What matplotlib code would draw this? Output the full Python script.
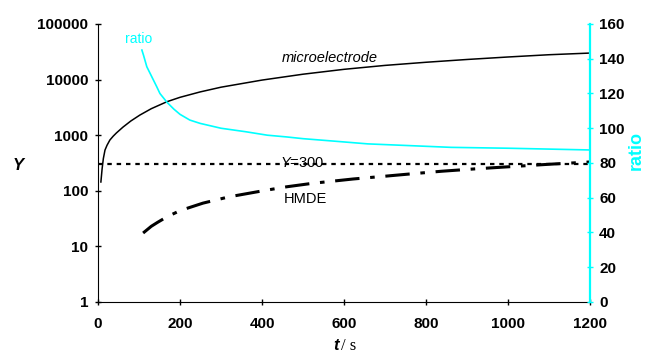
import matplotlib
matplotlib.use("Agg")
import matplotlib.pyplot as plt
from matplotlib.ticker import NullLocator

plt.rcParams['font.family'] = 'Liberation Sans'
plt.rcParams['mathtext.fontset'] = 'custom'
plt.rcParams['mathtext.rm'] = 'Liberation Sans'
plt.rcParams['mathtext.it'] = 'Liberation Sans:italic'

# data
t_micro = [7, 10, 13, 17, 22, 29, 37, 45, 61, 80, 102, 130, 168, 200, 249, 300,
           400, 500, 600, 700, 800, 900, 1000, 1100, 1200]
y_micro = [144, 250, 380, 540, 660, 820, 960, 1100, 1400, 1800, 2300, 3000, 4000,
           4800, 6000, 7300, 9800, 12500, 15300, 18000, 20500, 23000, 25500, 28000, 30000]

t_hmde = [110, 130, 145, 168, 200, 256, 320, 402, 460, 522, 622, 700, 768, 839,
          920, 1000, 1100, 1200]
y_hmde = [17.4, 23, 27, 34, 44, 60, 78, 100, 118, 136, 163, 183, 203, 225,
          248, 270, 300, 330]

t_ratio = [107, 111, 119, 131, 143, 151, 168, 185, 200, 224, 249, 300, 360, 413,
           460, 500, 580, 658, 760, 861, 1000, 1100, 1200]
ratio = [145, 142, 135.4, 129.7, 124, 120, 115, 111, 108, 104.7, 102.8, 100, 98, 96,
         95, 94, 92.5, 91, 90, 89, 88.5, 88, 87.5]

y_ref = 300

xticks = [0, 200, 400, 600, 800, 1000, 1200]
yticks = [1, 10, 100, 1000, 10000, 100000]
rticks = [0, 20, 40, 60, 80, 100, 120, 140, 160]

fig = plt.figure(figsize=(6.5, 3.56), dpi=100)
ax = fig.add_axes([0.1508, 0.1517, 0.7569, 0.7809])
ax2 = ax.twinx()

ax.plot(t_micro, y_micro, color='black', lw=1.1)
ax.plot(t_hmde, y_hmde, color='black', lw=2.2, dashes=(8, 3.5, 1.5, 3.5))
ax.axhline(y_ref, color='black', lw=1.6, dashes=(2, 2.2))
ax2.plot(t_ratio, ratio, color='cyan', lw=1.2)

ax.set_yscale('log')
ax.set_xlim(0, 1200)
ax.set_ylim(1, 100000)
ax2.set_ylim(0, 160)

ax.set_xticks(xticks, labels=[str(v) for v in xticks], fontweight='bold')
ax.set_yticks(yticks, labels=[str(v) for v in yticks], fontweight='bold')
ax.yaxis.set_minor_locator(NullLocator())
ax2.set_yticks(rticks, labels=[str(v) for v in rticks], fontweight='bold')

ax.tick_params(axis='y', direction='inout', length=5, width=1, labelsize=11, pad=4.5)
ax.tick_params(axis='x', direction='inout', length=5, width=1, labelsize=11, pad=8)
ax2.tick_params(axis='y', direction='inout', length=5, width=1, color='cyan',
                labelsize=11, pad=4)

ax.spines['top'].set_visible(False)
ax.spines['right'].set_visible(False)
for s in ['top', 'left', 'bottom']:
    ax2.spines[s].set_visible(False)
ax2.spines['right'].set_color('cyan')
ax2.spines['right'].set_linewidth(1.6)

# annotations
ax.text(566, 24500, 'microelectrode', style='italic', fontsize=10.5, ha='center', va='center')
ax.text(98, 53000, 'ratio', color='cyan', fontsize=10, ha='center', va='center')
ax.text(497, y_ref * 1.06, r'$Y$=300', fontsize=10.5, ha='center', va='center')
ax.text(505, 71, 'HMDE', fontsize=10.5, ha='center', va='center')

fig.text(18 / 650, 1 - 165 / 356, 'Y', fontsize=12, fontweight='bold', style='italic',
         ha='center', va='center')
fig.text(636 / 650, 1 - 150 / 356, 'ratio', fontsize=13, fontweight='bold', color='cyan',
         rotation=90, ha='center', va='center')
fig.text(339 / 650, 1 - 346 / 356, 't', fontsize=12, fontweight='bold', style='italic',
         ha='right', va='center')
fig.text(341 / 650, 1 - 346 / 356, '/ s', fontsize=12, family='Liberation Serif',
         ha='left', va='center')

fig.savefig('out.png', dpi=100)
